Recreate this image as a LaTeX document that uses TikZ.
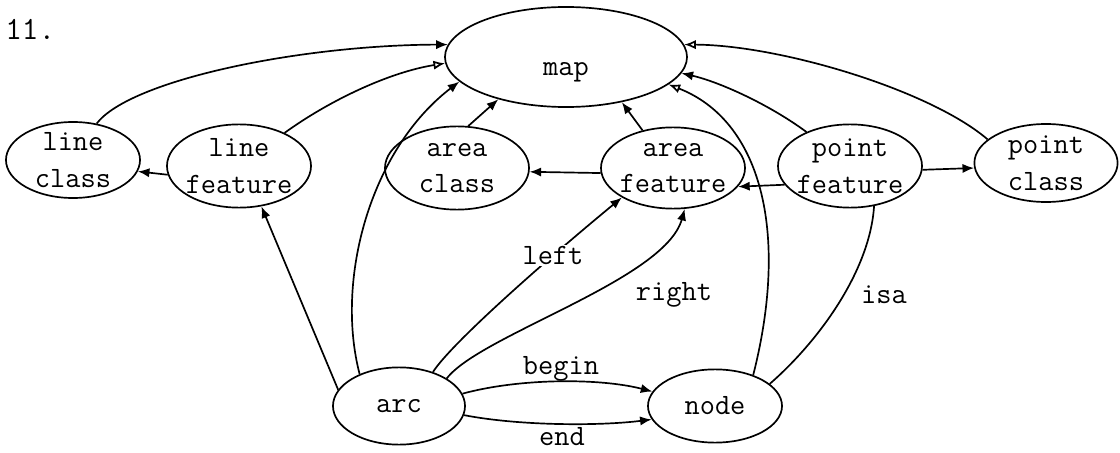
\documentclass[tikz,border=0pt]{standalone}
\usepackage{tikz}
\usetikzlibrary{arrows.meta, shapes.geometric}

\begin{document}
\begin{tikzpicture}[x=0.025cm, y=-0.025cm, line width=1.2pt,
	ent/.style={ellipse, draw, inner sep=-12pt, align=center,
		font=\fontsize{21}{26}\selectfont\ttfamily,
		minimum width=3.6cm, minimum height=2.08cm},
	lbl/.style={font=\fontsize{21}{26}\selectfont\ttfamily, inner sep=1pt},
	arr/.style={-{Latex[length=2.9mm, width=2.3mm]}},
	oarr/.style={-{Latex[open, length=2.9mm, width=2.3mm]}}]

	\useasboundingbox (0,0) rectangle (1120,453);

	\node[lbl, anchor=west, font=\fontsize{23}{26}\selectfont\ttfamily] (num) at (3,29) {11.};

	% entities
	\node[ent, minimum width=6.05cm, minimum height=2.5cm] (map) at (566,57) {\raisebox{-0.45cm}[0pt][0pt]{map}};
	\node[ent, minimum width=3.35cm, minimum height=1.9cm] (lclass) at (73,160) {line\\class};
	\node[ent] (lfeat) at (239,166) {line\\feature};
	\node[ent] (aclass) at (457,168) {area\\class};
	\node[ent, minimum height=2.03cm] (afeat) at (673,168) {area\\feature};
	\node[ent] (pfeat) at (850,166) {point\\feature};
	\node[ent, minimum width=3.58cm, minimum height=1.95cm] (pclass) at (1046,163) {point\\class};
	\node[ent, minimum width=3.3cm, minimum height=1.93cm] (arc) at (399,406) {arc};
	\node[ent, minimum width=3.35cm, minimum height=1.83cm] (nd) at (715,406) {node};

	% links into map
	\draw[arr] (lclass.57) .. controls (130,80) and (300,45) .. (map.174);
	\draw[oarr] (lfeat.36) .. controls (330,100) and (390,72) .. (map.183);
	\draw[arr] (arc.141) .. controls (335,280) and (370,150) .. (map.193);
	\draw[arr] (aclass.75) -- (map.212);
	\draw[arr] (afeat.129) -- (map.321);
	\draw[oarr] (nd.39) .. controls (790,230) and (760,120) .. (map.345);
	\draw[arr] (pfeat.142) .. controls (770,105) and (720,82) .. (map.352);
	\draw[oarr] (pclass.158) .. controls (930,90) and (780,45) .. (map.6);

	% feature -> class
	\draw[arr] (lfeat.187) -- (lclass.350);
	\draw[arr] (afeat.184) -- (aclass.357);
	\draw[arr] (pfeat.357) -- (pclass.184);
	\draw[arr] (pfeat.196) -- (afeat.344);

	% arc and node
	\draw[arr] (arc.165) -- (lfeat.299);
	\draw[arr] (arc.45) .. controls (450,345) and (540,265) .. node[lbl, fill=white, pos=0.72] (left) {left} (afeat.210);
	\draw[arr] (arc.30) .. controls (480,335) and (665,280) .. (afeat.286);
	\node[lbl] (right) at (674,295) {right};
	\draw (nd.22) .. controls (820,340) and (870,270) .. (pfeat.301);
	\node[lbl] (isa) at (884,295) {isa};
	\draw[arr] (arc.11) .. controls (520,378) and (600,378) .. (nd.167);
	\node[lbl] (begin) at (561,369) {begin};
	\draw[arr] (arc.352) .. controls (520,426) and (600,426) .. (nd.192);
	\node[lbl, inner sep=0pt] (end) at (562,437) {end};

\end{tikzpicture}
\end{document}
